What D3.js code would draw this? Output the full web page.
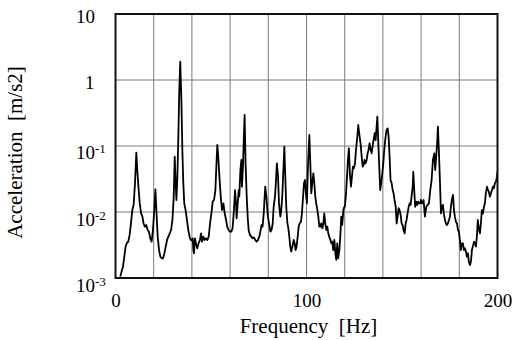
<!DOCTYPE html>
<html>
<head>
<meta charset="utf-8">
<script src="https://cdn.jsdelivr.net/npm/d3@7"></script>
<style>
  html, body { margin: 0; padding: 0; background: #fff; }
  svg { display: block; }
</style>
</head>
<body>
<div id="chart"></div>
<script>
// spectrum: frequency [Hz] and acceleration [m/s2]
const freq = [
  2.5, 3.2, 3.9, 4.6, 5.3, 6.0, 6.7, 7.4, 8.1, 8.8, 9.5, 10.2, 10.9, 11.4, 12.0, 12.7, 13.4, 14.1, 14.7, 15.4,
  16.1, 16.8, 17.5, 18.2, 18.9, 19.6, 20.3, 20.9, 21.4, 22.1, 22.8, 23.5, 24.2, 24.9, 25.6, 26.3, 27.0, 27.7, 28.4, 29.1,
  29.8, 30.5, 31.0, 31.5, 31.9, 32.4, 32.9, 33.4, 33.9, 34.5, 35.0, 35.5, 36.0, 36.7, 37.4, 38.1, 38.8,
  39.0, 39.7, 40.4, 40.8, 41.1, 41.6, 42.1, 42.8, 43.5, 44.2, 44.8, 45.3, 46.0, 46.7, 47.4, 48.1, 48.8, 49.5, 50.2, 50.9,
  51.6, 52.3, 52.8, 53.3, 53.8, 54.4, 55.1, 55.8, 56.5, 57.2, 57.9, 58.5, 59.2, 59.9, 60.6, 61.3, 62.0, 62.6, 63.1, 63.4,
  64.0, 64.5, 64.8, 65.4, 65.9, 66.2, 66.8, 67.1, 67.6, 68.1, 68.7, 69.2, 69.7, 70.4, 71.1, 71.8, 72.5, 73.2, 73.9, 74.6,
  75.3, 76.0, 76.5, 77.0, 77.6, 78.1, 78.4, 79.0, 79.5,
  79.8, 80.4, 81.1, 81.7, 82.3, 82.8, 83.5, 84.0, 84.5, 85.1, 85.6, 86.3, 86.8, 87.3, 87.9, 88.4, 88.9, 89.4, 90.0, 90.5,
  91.0, 91.5, 92.0, 92.6, 93.3, 93.8, 94.3, 94.8, 95.4, 95.9, 96.4, 97.1, 97.6, 98.2, 98.7, 99.2, 99.7, 100.2, 100.6, 101.1,
  101.5, 102.0, 102.5, 103.0, 103.6, 104.1, 104.6, 105.1, 105.7, 106.2, 106.7, 107.2, 107.7, 108.3, 108.8, 109.3, 109.8, 110.4, 110.9, 111.4,
  111.9, 112.5, 113.0, 113.5, 114.0, 114.6, 115.1, 115.6, 116.1, 116.6, 117.2, 117.7, 118.2, 118.7, 119.3, 119.8,
  120.1, 120.7, 121.2, 121.7, 122.2, 122.7, 123.3, 123.8, 124.3, 124.8, 125.4, 125.9, 126.6, 127.1, 127.6, 128.3, 128.9, 129.4, 129.9, 130.4,
  130.9, 131.5, 132.0, 132.5, 133.0, 133.6, 134.1, 134.6, 135.1, 135.7, 136.2, 136.7, 137.1, 137.6, 138.1, 138.6, 139.1, 139.7, 140.2, 140.7,
  141.2, 141.9, 142.5, 143.0, 143.5, 144.0, 144.6, 145.1, 145.6, 146.1, 146.7, 147.2, 147.7, 148.2, 148.7, 149.3, 149.8, 150.3, 150.8, 151.4,
  151.9, 152.4, 152.9, 153.5, 154.0, 154.5, 155.0, 155.6, 155.9, 156.4, 156.9, 157.5, 158.0, 158.5, 159.0, 159.6,
  159.9, 160.6, 161.3, 162.0, 162.7, 163.4, 164.1, 164.8, 165.5, 166.2, 166.9, 167.4, 167.9, 168.5, 168.8, 169.3, 169.9, 170.4, 170.9, 171.4,
  171.9, 172.5, 173.0, 173.5, 174.0, 174.6, 175.1, 175.6, 176.1, 176.7, 177.2, 177.7, 178.2, 178.8, 179.3, 179.8, 180.3, 180.8, 181.4, 181.9,
  182.4, 182.9, 183.5, 184.0, 184.5, 185.0, 185.6, 186.1, 186.6, 187.1, 187.7, 188.2, 188.7, 189.2, 189.7, 190.3, 190.8, 191.3, 191.8, 192.4,
  192.9, 193.4, 193.9, 194.5, 195.0, 195.5, 196.0, 196.6, 197.1, 197.6, 198.1, 198.6, 199.2, 199.7, 200.0
];
const accel = [
  0.00105, 0.00126, 0.00148, 0.0021, 0.0030, 0.00343, 0.00355, 0.0045, 0.0068, 0.0107, 0.0128, 0.0272, 0.0793, 0.0433, 0.0242, 0.0135, 0.0095, 0.0085, 0.0067, 0.0060,
  0.00635, 0.00533, 0.00503, 0.00399, 0.00356, 0.00533, 0.0107, 0.022, 0.0107, 0.00423, 0.00265, 0.0021, 0.00199, 0.00199, 0.00237, 0.00299, 0.00377, 0.00423, 0.00475, 0.00533,
  0.00757, 0.0171, 0.0689, 0.0272, 0.0152, 0.0343, 0.138, 0.705, 1.90, 0.498, 0.0869, 0.0272, 0.0135, 0.0107, 0.00757, 0.00533, 0.00423,
  0.00399, 0.00368, 0.00399, 0.00265, 0.00237, 0.00399, 0.00335, 0.00282, 0.00335, 0.00377, 0.00475, 0.00356, 0.00423, 0.00377, 0.00399, 0.00377, 0.00423, 0.0067, 0.0095, 0.0144,
  0.0152, 0.0215, 0.0486, 0.1035, 0.0689, 0.0343, 0.0171, 0.0107, 0.0135, 0.0095, 0.00757, 0.0060, 0.00533, 0.00503, 0.00503, 0.00565, 0.0107, 0.0215, 0.0135, 0.0080,
  0.0135, 0.0215, 0.0171, 0.0433, 0.0614, 0.0242, 0.0546, 0.110, 0.295, 0.0546, 0.0171, 0.0085, 0.00533, 0.0045, 0.00423, 0.00399, 0.0041, 0.00377, 0.00356, 0.00377,
  0.00423, 0.00533, 0.00635, 0.0060, 0.0095, 0.0171, 0.0242, 0.0171, 0.0107,
  0.0085, 0.0067, 0.00503, 0.00533, 0.0067, 0.0120, 0.0171, 0.0288, 0.0546, 0.0343, 0.0135, 0.0085, 0.0107, 0.0171, 0.0433, 0.0977, 0.0343, 0.0120, 0.0067, 0.00565,
  0.00423, 0.00299, 0.00251, 0.00299, 0.00377, 0.00335, 0.00265, 0.00299, 0.00423, 0.0060, 0.0067, 0.00714, 0.0095, 0.0171, 0.0272, 0.0305, 0.0192, 0.0135, 0.0343, 0.0869,
  0.147, 0.0546, 0.0192, 0.0272, 0.0385, 0.0272, 0.0171, 0.0135, 0.0107, 0.0085, 0.0060, 0.0060, 0.0067, 0.00565, 0.0067, 0.0095, 0.0067, 0.00533, 0.0060, 0.00475,
  0.00423, 0.00377, 0.00335, 0.00356, 0.00265, 0.00377, 0.00237, 0.00188, 0.00335, 0.00199, 0.00265, 0.00423, 0.0085, 0.00635, 0.0107, 0.0120,
  0.0120, 0.0192, 0.0343, 0.0614, 0.0922, 0.0385, 0.0242, 0.0343, 0.0486, 0.0459, 0.0546, 0.0869, 0.138, 0.208, 0.156, 0.110, 0.0689, 0.0486, 0.0515, 0.0614,
  0.0546, 0.0614, 0.0774, 0.0869, 0.110, 0.0869, 0.0774, 0.0977, 0.123, 0.156, 0.123, 0.196, 0.278, 0.110, 0.0486, 0.0215, 0.0272, 0.0385, 0.0546, 0.0869,
  0.123, 0.175, 0.185, 0.138, 0.0689, 0.0305, 0.0272, 0.0215, 0.0192, 0.0152, 0.0120, 0.0067, 0.0085, 0.0114, 0.0107, 0.0090, 0.0067, 0.00635, 0.00533, 0.00475,
  0.0067, 0.00757, 0.0095, 0.0120, 0.0135, 0.0128, 0.0171, 0.0242, 0.0408, 0.0215, 0.0120, 0.0144, 0.0128, 0.0144, 0.0135, 0.0135,
  0.0152, 0.0135, 0.0152, 0.0085, 0.0120, 0.0128, 0.0135, 0.0215, 0.0305, 0.0614, 0.0774, 0.0433, 0.0689, 0.123, 0.196, 0.0869, 0.0272, 0.0095, 0.0120, 0.0128,
  0.0095, 0.00757, 0.0067, 0.00635, 0.0067, 0.00757, 0.0085, 0.0120, 0.0152, 0.0181, 0.0107, 0.0085, 0.00714, 0.0067, 0.00533, 0.00503, 0.00377, 0.00265, 0.00335, 0.00335,
  0.00265, 0.00282, 0.00251, 0.0021, 0.00237, 0.00177, 0.00157, 0.00177, 0.00265, 0.00299, 0.00356, 0.00335, 0.00299, 0.00423, 0.00757, 0.00533, 0.00475, 0.0067, 0.0107, 0.0095,
  0.0120, 0.0135, 0.0192, 0.0242, 0.0215, 0.0203, 0.0171, 0.0192, 0.0215, 0.0242, 0.0229, 0.0272, 0.0288, 0.0343, 0.0408
];

const xTicks = [0, 100, 200];
const yTicks = [10, 1, 0.1, 0.01, 0.001];
const yTickBase = ["10", "1", "10", "10", "10"];
const yTickExp = ["", "", "-1", "-2", "-3"];
const xGrid = [20, 40, 60, 80, 100, 120, 140, 160, 180];
const xTitle = "Frequency\u00a0\u00a0[Hz]";
const yTitle = "Acceleration\u00a0\u00a0[m/s2]";

const W = 519, H = 340;
const margin = { top: 14, right: 21.5, bottom: 62, left: 115.5 };
const width = W - margin.left - margin.right;
const height = H - margin.top - margin.bottom;
const serif = "'Liberation Serif', 'Times New Roman', 'DejaVu Serif', serif";

const svg = d3.select("#chart").append("svg")
  .attr("width", W)
  .attr("height", H)
  .attr("font-family", serif);

const g = svg.append("g")
  .attr("transform", `translate(${margin.left},${margin.top})`);

const x = d3.scaleLinear().domain([0, 200]).range([0, width]);
const y = d3.scaleLog().domain([0.001, 10]).range([height, 0]);

// grid
g.append("g")
  .selectAll("line")
  .data(xGrid)
  .join("line")
  .attr("x1", d => x(d)).attr("x2", d => x(d))
  .attr("y1", 0).attr("y2", height)
  .attr("stroke", "#7a7a7a")
  .attr("stroke-width", 1);

g.append("g")
  .selectAll("line")
  .data(yTicks.slice(1, -1))
  .join("line")
  .attr("x1", 0).attr("x2", width)
  .attr("y1", d => y(d)).attr("y2", d => y(d))
  .attr("stroke", "#7a7a7a")
  .attr("stroke-width", 1);

// curve
g.append("clipPath").attr("id", "plot-clip")
  .append("rect").attr("width", width).attr("height", height);

const series = freq.map((f, i) => ({ f, a: accel[i] }));
g.append("path")
  .datum(series)
  .attr("clip-path", "url(#plot-clip)")
  .attr("fill", "none")
  .attr("stroke", "#000")
  .attr("stroke-width", 1.8)
  .attr("stroke-linejoin", "round")
  .attr("d", d3.line().x(d => x(d.f)).y(d => y(d.a)));

// frame
g.append("rect")
  .attr("width", width)
  .attr("height", height)
  .attr("fill", "none")
  .attr("stroke", "#111")
  .attr("stroke-width", 2);

// x axis labels
const xAxis = g.append("g")
  .attr("transform", `translate(0,${height})`)
  .call(d3.axisBottom(x).tickValues(xTicks).tickSize(0).tickPadding(15.5).tickFormat(d3.format("d")))
  .attr("font-family", serif)
  .attr("font-size", 19);
xAxis.select(".domain").remove();
xAxis.selectAll("text").attr("fill", "#000");

// y axis labels with superscript exponents
const yOffsets = [8.7, 9, 13, 14, 14];
const yLab = g.append("g")
  .attr("font-size", 19)
  .selectAll("text")
  .data(yTicks)
  .join("text")
  .attr("x", (d, i) => (yTickBase[i] === "1" ? 85 : 76) - margin.left)
  .attr("y", (d, i) => y(d) + yOffsets[i])
  .attr("fill", "#000");
yLab.append("tspan").text((d, i) => yTickBase[i]);
yLab.filter((d, i) => yTickExp[i] !== "")
  .append("tspan")
  .attr("dy", -6)
  .attr("font-size", 13)
  .text(d => yTickExp[yTicks.indexOf(d)]);

// axis titles
svg.append("text")
  .attr("x", 308.5)
  .attr("y", 333)
  .attr("text-anchor", "middle")
  .attr("fill", "#000")
  .attr("font-size", 21)
  .text(xTitle);

svg.append("text")
  .attr("transform", "translate(22,152.5) rotate(-90)")
  .attr("text-anchor", "middle")
  .attr("fill", "#000")
  .attr("font-size", 21)
  .text(yTitle);
</script>
</body>
</html>
